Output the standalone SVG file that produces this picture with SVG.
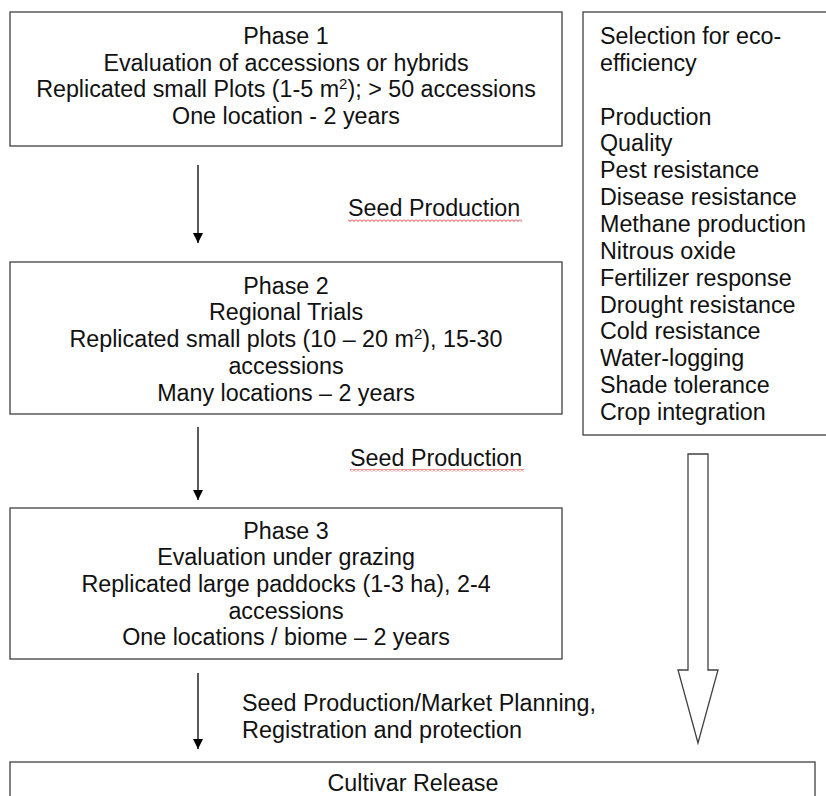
<svg xmlns="http://www.w3.org/2000/svg" width="826" height="796" viewBox="0 0 826 796">
<style>
.box{fill:#fff;stroke:#404040;stroke-width:1.3}
text{font-family:"Liberation Sans",Arial,sans-serif;font-size:23.3px;fill:#111}
.c{text-anchor:middle}
.ln{stroke:#000;stroke-width:1.3;fill:none}
</style>
<defs>
<marker id="ah" viewBox="0 0 10 10" refX="10" refY="5" markerWidth="10" markerHeight="10" markerUnits="userSpaceOnUse" orient="auto">
<path d="M0,0 L10,5 L0,10 z" fill="#000"/>
</marker>
<pattern id="wave" x="0" y="0" width="4" height="3" patternUnits="userSpaceOnUse">
<polyline points="0,0.5 2,2.5 4,0.5" fill="none" stroke="#e03030" stroke-width="1"/>
</pattern>
</defs>
<rect width="826" height="796" fill="#fff"/>
<g id="phase1">
<rect class="box" x="10" y="12" width="552" height="134"/>
<text class="c" x="286" y="44">Phase 1</text>
<text class="c" x="286" y="71">Evaluation of accessions or hybrids</text>
<text class="c" x="286" y="97">Replicated small Plots (1-5 m<tspan font-size="15" dy="-8">2</tspan><tspan dy="8">); &gt; 50 accessions</tspan></text>
<text class="c" x="286" y="124">One location - 2 years</text>
</g>
<g id="phase2">
<rect class="box" x="10" y="262" width="552" height="152"/>
<text class="c" x="286" y="294">Phase 2</text>
<text class="c" x="286" y="320">Regional Trials</text>
<text class="c" x="286" y="347">Replicated small plots (10 – 20 m<tspan font-size="15" dy="-8">2</tspan><tspan dy="8">), 15-30</tspan></text>
<text class="c" x="286" y="374">accessions</text>
<text class="c" x="286" y="401">Many locations – 2 years</text>
</g>
<g id="phase3">
<rect class="box" x="10" y="508" width="552" height="151"/>
<text class="c" x="286" y="539">Phase 3</text>
<text class="c" x="286" y="565">Evaluation under grazing</text>
<text class="c" x="286" y="592">Replicated large paddocks (1-3 ha), 2-4</text>
<text class="c" x="286" y="619">accessions</text>
<text class="c" x="286" y="645">One locations / biome – 2 years</text>
</g>
<g id="selection">
<rect class="box" x="583" y="12" width="250" height="423"/>
<text x="600" y="44">Selection for eco-</text>
<text x="600" y="71">efficiency</text>
<text x="600" y="125">Production</text>
<text x="600" y="151">Quality</text>
<text x="600" y="178">Pest resistance</text>
<text x="600" y="205">Disease resistance</text>
<text x="600" y="232">Methane production</text>
<text x="600" y="259">Nitrous oxide</text>
<text x="600" y="286">Fertilizer response</text>
<text x="600" y="313">Drought resistance</text>
<text x="600" y="339">Cold resistance</text>
<text x="600" y="366">Water-logging</text>
<text x="600" y="393">Shade tolerance</text>
<text x="600" y="420">Crop integration</text>
</g>
<g id="release">
<rect class="box" x="10" y="762" width="805" height="60"/>
<text class="c" x="413" y="791">Cultivar Release</text>
</g>
<g id="connectors">
<line class="ln" x1="198" y1="165" x2="198" y2="243" marker-end="url(#ah)"/>
<line class="ln" x1="198" y1="427" x2="198" y2="500" marker-end="url(#ah)"/>
<line class="ln" x1="198" y1="673" x2="198" y2="749" marker-end="url(#ah)"/>
<path d="M688,454 L708,454 L708,670 L718,670 L698,743 L678,670 L688,670 Z" fill="#fff" stroke="#404040" stroke-width="1.3"/>
</g>
<g id="labels">
<text x="348" y="216">Seed Production</text>
<rect x="348" y="219" width="174" height="3" fill="url(#wave)"/>
<text x="350" y="466">Seed Production</text>
<rect x="350" y="469" width="174" height="3" fill="url(#wave)"/>
<text x="242" y="711" textLength="354" lengthAdjust="spacingAndGlyphs">Seed Production/Market Planning,</text>
<text x="242" y="738" textLength="280" lengthAdjust="spacingAndGlyphs">Registration and protection</text>
</g>
</svg>
